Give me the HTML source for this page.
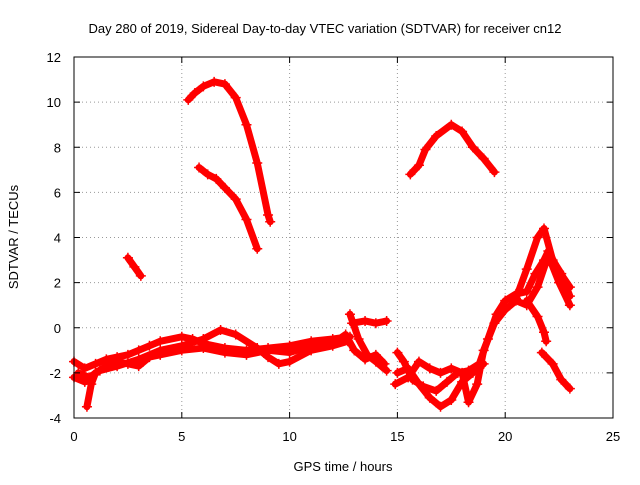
<!DOCTYPE html>
<html><head><meta charset="utf-8"><style>
body{margin:0;background:#fff;}
svg text{font-family:"Liberation Sans",sans-serif;font-size:13px;fill:#000;}
</style></head><body>
<svg id="chart" width="640" height="480" xmlns="http://www.w3.org/2000/svg">
<rect width="640" height="480" fill="#fff"/>
<text x="325" y="33" text-anchor="middle">Day 280 of 2019, Sidereal Day-to-day VTEC variation (SDTVAR) for receiver cn12</text>
<text x="343" y="471" text-anchor="middle">GPS time / hours</text>
<text transform="translate(18,237) rotate(-90)" text-anchor="middle">SDTVAR / TECUs</text>
<g id="grid"></g><g id="series"></g>
<rect x="74" y="57" width="539" height="361" fill="none" stroke="#000" stroke-width="1"/>
<g id="ticks"></g>
</svg>
<script>
const xTicks=[0,5,10,15,20,25];
const yTicks=[-4,-2,0,2,4,6,8,10,12];
const track1=[[5.3,10.1],[5.6,10.4],[6.0,10.7],[6.5,10.9],[7.0,10.8],[7.5,10.2],[8.0,9.0],[8.5,7.3],[9.0,5.0],[9.1,4.7]];
const track2=[[5.8,7.1],[6.2,6.8],[6.6,6.6],[7.0,6.2],[7.5,5.7],[8.0,4.8],[8.5,3.5]];
const track3=[[2.5,3.1],[2.8,2.7],[3.1,2.3]];
const track4=[[15.6,6.8],[16.0,7.2],[16.3,7.9],[16.8,8.5],[17.5,9.0],[18.0,8.7],[18.5,8.0],[19.0,7.5],[19.5,6.9]];
const track5=[[0.0,-1.5],[0.5,-1.8],[1.0,-1.6],[1.5,-1.4],[2.0,-1.3],[2.5,-1.2],[3.0,-1.0],[3.5,-0.8],[4.0,-0.6],[5.0,-0.4],[5.5,-0.5],[6.0,-0.7],[7.0,-0.9],[8.0,-1.0],[9.0,-0.9],[10.0,-0.8],[11.0,-0.6],[12.0,-0.5],[12.8,-0.4]];
const track6=[[0.2,-2.0],[0.7,-2.2],[1.2,-1.9],[2.0,-1.7],[3.0,-1.4],[4.0,-1.0],[5.0,-0.8],[6.0,-0.5],[6.8,-0.1],[7.5,-0.3],[8.5,-0.9],[9.0,-1.3],[9.5,-1.6],[10.0,-1.5],[11.0,-1.0],[12.0,-0.8],[12.7,-0.6]];
const track7=[[0.6,-3.5],[0.8,-2.5],[1.0,-2.0]];
const track8=[[12.8,0.6],[13.2,-0.5],[13.6,-1.2],[14.0,-1.5],[14.5,-1.9]];
const track9=[[12.9,0.2],[13.5,0.3],[14.0,0.2],[14.5,0.3]];
const track10=[[15.0,-1.1],[15.3,-1.5],[15.7,-2.3],[16.2,-2.6],[16.8,-2.8],[17.3,-2.4],[17.8,-2.0],[18.3,-1.9],[18.8,-1.6],[19.2,-0.5],[19.6,0.6],[20.0,1.2],[20.5,1.5],[21.0,1.6],[21.4,2.4],[21.8,3.0],[22.0,3.4],[22.5,2.5],[23.0,1.8]];
const track11=[[15.0,-2.0],[15.5,-1.8],[16.0,-2.5],[16.5,-3.1],[17.0,-3.5],[17.5,-3.2],[18.0,-2.4],[18.5,-2.0],[19.0,-1.6]];
const track12=[[14.9,-2.5],[15.5,-2.2],[16.0,-1.5],[16.5,-1.8],[17.0,-2.0],[17.5,-1.8],[18.0,-2.0],[18.3,-3.3],[18.7,-2.5],[19.0,-1.0],[19.5,0.2],[20.0,0.8],[20.5,1.2],[21.0,1.0],[21.5,1.8],[22.0,3.2],[22.5,2.0],[23.0,1.0]];
const track13=[[20.5,1.3],[21.0,2.6],[21.5,4.0],[21.8,4.4],[22.2,3.0],[22.6,2.4],[23.0,1.4]];
const track14=[[21.0,1.2],[21.5,0.5],[21.8,-0.2],[21.9,-0.6]];
const track15=[[21.7,-1.1],[22.2,-1.6],[22.6,-2.3],[23.0,-2.7]];
const track16=[[0.0,-2.2],[0.5,-2.4],[1.0,-2.0],[1.5,-1.7],[2.0,-1.5],[2.5,-1.6],[3.0,-1.7],[3.5,-1.3],[4.0,-1.2],[5.0,-1.0],[6.0,-0.9],[7.0,-1.1],[8.0,-1.2],[9.0,-1.0],[10.0,-1.1],[11.0,-0.8],[12.0,-0.7],[12.6,-0.3],[13.0,-1.0],[13.5,-1.4],[14.0,-1.2],[14.4,-1.6]];
const tracks=[track1,track2,track3,track4,track5,track6,track7,track8,track9,track10,track11,track12,track13,track14,track15,track16];

const L=74,R=613,T=57,B=418;
const sx=v=>L+(v-0)/(25-0)*(R-L);
const sy=v=>B-(v+4)/(12+4)*(B-T);
const NS="http://www.w3.org/2000/svg";
const grid=document.getElementById('grid'),ticks=document.getElementById('ticks'),ser=document.getElementById('series');
function mk(tag,attrs,parent){const e=document.createElementNS(NS,tag);for(const k in attrs)e.setAttribute(k,attrs[k]);parent.appendChild(e);return e;}
xTicks.forEach(t=>{
  const x=sx(t);
  if(t>0&&t<25){const g=mk('line',{x1:x,x2:x,y1:T,y2:B,stroke:'#999','stroke-dasharray':'1,3'},grid);
  
  }
  mk('line',{x1:x,x2:x,y1:B,y2:B-6,stroke:'#000'},ticks);
  mk('line',{x1:x,x2:x,y1:T,y2:T+6,stroke:'#000'},ticks);
  const tx=mk('text',{x:x,y:B+23,'text-anchor':'middle'},ticks);tx.textContent=t;
  
  
});
yTicks.forEach(t=>{
  const y=sy(t);
  if(t>-4&&t<12){const g=mk('line',{x1:L,x2:R,y1:y,y2:y,stroke:'#999','stroke-dasharray':'1,3'},grid);
  
  }
  mk('line',{x1:L,x2:L+6,y1:y,y2:y,stroke:'#000'},ticks);
  mk('line',{x1:R,x2:R-6,y1:y,y2:y,stroke:'#000'},ticks);
  const tx=mk('text',{x:L-13,y:y+5,'text-anchor':'end'},ticks);tx.textContent=t;
  
  
});
tracks.forEach((tr,i)=>{
  const pts=tr.map(p=>sx(p[0])+','+sy(p[1])).join(' ');
  const pl=mk('polyline',{points:pts,fill:'none',stroke:'#f00','stroke-width':7,'stroke-linejoin':'round','stroke-linecap':'round'},ser);
  
  
  tr.forEach(p=>{
    const x=sx(p[0]),y=sy(p[1]);
    const m=mk('path',{d:`M${x-5},${y}H${x+5}M${x},${y-5}V${y+5}`,stroke:'#f00','stroke-width':1.5},ser);
    
    
  });
});
</script>
</body></html>
